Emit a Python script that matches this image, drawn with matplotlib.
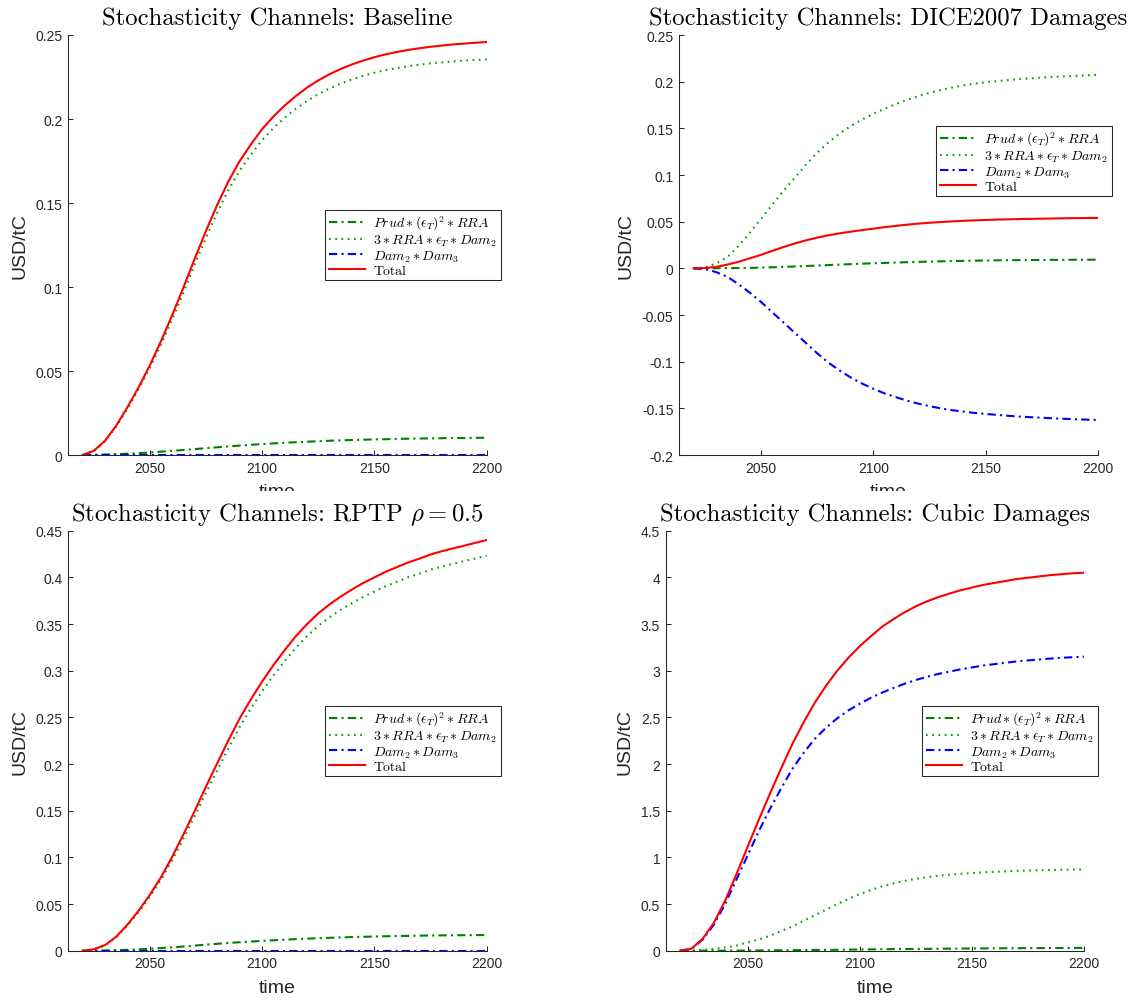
import matplotlib
matplotlib.use('Agg')
import matplotlib.pyplot as plt
from matplotlib import ticker
from matplotlib.transforms import Bbox, TransformedBbox

matplotlib.rcParams['mathtext.fontset'] = 'cm'
matplotlib.rcParams['axes.unicode_minus'] = False
matplotlib.rcParams['font.family'] = 'Liberation Sans'

W, H = 1133, 1004

years = [2020, 2025, 2030, 2035, 2040, 2045, 2050, 2055, 2060, 2065, 2070, 2075, 2080,
         2085, 2090, 2095, 2100, 2105, 2110, 2115, 2120, 2125, 2130, 2135, 2140, 2145,
         2150, 2155, 2160, 2165, 2170, 2175, 2180, 2185, 2190, 2195, 2200]

# Baseline
base_prud = [0, 0.0001, 0.0003, 0.0005, 0.0008, 0.0011, 0.0015, 0.002, 0.0025, 0.003, 0.0035, 0.0041, 0.0046,
             0.0051, 0.0056, 0.0061, 0.0065, 0.0069, 0.0073, 0.0076, 0.0079, 0.0082, 0.0085, 0.0087, 0.0089,
             0.0091, 0.0093, 0.0094, 0.0096, 0.0097, 0.0098, 0.0099, 0.0100, 0.0101, 0.0101, 0.0102, 0.0103]
base_rra = [0, 0.0024, 0.0082, 0.017, 0.0277, 0.0394, 0.052, 0.066, 0.081, 0.097, 0.1135, 0.1294, 0.1444,
            0.1579, 0.1694, 0.1789, 0.1875, 0.1946, 0.2007, 0.2061, 0.2108, 0.2148, 0.2182, 0.2211, 0.2236,
            0.2257, 0.2275, 0.2291, 0.2303, 0.2314, 0.2323, 0.2331, 0.2337, 0.2343, 0.2348, 0.2352, 0.2355]
base_dam = [0] * 37
base_total = [0, 0.0025, 0.0085, 0.0175, 0.0285, 0.0405, 0.0535, 0.068, 0.0835, 0.1, 0.117, 0.1335, 0.149,
              0.163, 0.175, 0.185, 0.194, 0.2015, 0.208, 0.2137, 0.2187, 0.223, 0.2267, 0.2298, 0.2325,
              0.2348, 0.2368, 0.2385, 0.2399, 0.2411, 0.2421, 0.243, 0.2437, 0.2444, 0.2449, 0.2454, 0.2458]

# DICE2007 damages
dice_prud = [0, 0, 0.0001, 0.0002, 0.0003, 0.0005, 0.0008, 0.0011, 0.0015, 0.002, 0.0025, 0.003, 0.0035,
             0.004, 0.0045, 0.005, 0.0054, 0.0058, 0.0062, 0.0066, 0.0069, 0.0072, 0.0075, 0.0078, 0.008,
             0.0082, 0.0084, 0.0086, 0.0087, 0.0088, 0.0089, 0.009, 0.0091, 0.0091, 0.0092, 0.0092, 0.0093]
dice_rra = [0, 0.001, 0.005, 0.012, 0.024, 0.038, 0.053, 0.068, 0.083, 0.097, 0.111, 0.124, 0.135,
            0.1445, 0.1525, 0.1595, 0.1655, 0.171, 0.176, 0.1805, 0.1845, 0.188, 0.191, 0.1937, 0.196,
            0.1978, 0.1993, 0.2006, 0.2017, 0.2027, 0.2036, 0.2044, 0.2051, 0.2057, 0.2063, 0.2068, 0.2073]
dice_dam = [0, -0.0008, -0.004, -0.009, -0.017, -0.026, -0.036, -0.047, -0.058, -0.069, -0.080, -0.091, -0.101,
            -0.1095, -0.117, -0.1235, -0.129, -0.134, -0.138, -0.1418, -0.145, -0.1477, -0.150, -0.152, -0.1535,
            -0.1549, -0.156, -0.157, -0.158, -0.1588, -0.1595, -0.1601, -0.1607, -0.1612, -0.1617, -0.1621, -0.1625]
dice_total = [0, 0.0003, 0.0015, 0.004, 0.007, 0.0107, 0.0145, 0.0187, 0.0228, 0.0266, 0.0300, 0.0329, 0.0354,
              0.0375, 0.0393, 0.041, 0.0425, 0.0441, 0.0455, 0.0468, 0.0479, 0.0488, 0.0496, 0.0503, 0.0509,
              0.0514, 0.0518, 0.0522, 0.0525, 0.0528, 0.053, 0.0532, 0.0534, 0.0536, 0.0538, 0.0539, 0.054]

# RPTP rho = 0.5
rptp_prud = [0, 0.0001, 0.0003, 0.0006, 0.001, 0.0015, 0.002, 0.0028, 0.0036, 0.0045, 0.0055, 0.0065, 0.0074,
             0.0083, 0.0091, 0.0098, 0.0105, 0.0112, 0.0118, 0.0124, 0.0129, 0.0134, 0.0138, 0.0142, 0.0146,
             0.0149, 0.0152, 0.0155, 0.0157, 0.0159, 0.0161, 0.0163, 0.0164, 0.0165, 0.0166, 0.0167, 0.0168]
rptp_rra = [0, 0.0014, 0.0057, 0.0144, 0.027, 0.0415, 0.058, 0.0762, 0.0974, 0.1205, 0.1445, 0.1695, 0.1936,
            0.2172, 0.2399, 0.2597, 0.278, 0.2948, 0.3102, 0.3246, 0.3371, 0.3481, 0.3572, 0.3653, 0.3724,
            0.3791, 0.3848, 0.3905, 0.3953, 0.4001, 0.4039, 0.4082, 0.4116, 0.4145, 0.4174, 0.4203, 0.4232]
rptp_dam = [0] * 37
rptp_total = [0, 0.0015, 0.006, 0.015, 0.028, 0.043, 0.060, 0.079, 0.101, 0.125, 0.150, 0.176, 0.201,
              0.2255, 0.249, 0.2695, 0.2885, 0.306, 0.322, 0.337, 0.350, 0.3615, 0.371, 0.3795, 0.387,
              0.394, 0.400, 0.406, 0.411, 0.416, 0.420, 0.4245, 0.428, 0.431, 0.434, 0.437, 0.440]

# Cubic damages
cubic_prud = [0, 0, 0.0002, 0.0005, 0.001, 0.0015, 0.002, 0.003, 0.004, 0.005, 0.006, 0.007, 0.008,
              0.009, 0.010, 0.0115, 0.013, 0.0145, 0.016, 0.017, 0.018, 0.019, 0.020, 0.021, 0.022,
              0.023, 0.024, 0.0247, 0.0253, 0.026, 0.0267, 0.0273, 0.028, 0.0285, 0.029, 0.0295, 0.030]
cubic_rra = [0, 0.002, 0.008, 0.02, 0.035, 0.055, 0.09, 0.12, 0.16, 0.21, 0.26, 0.32, 0.38,
             0.44, 0.50, 0.555, 0.605, 0.65, 0.69, 0.72, 0.748, 0.77, 0.788, 0.802, 0.814,
             0.824, 0.832, 0.839, 0.845, 0.85, 0.855, 0.859, 0.862, 0.865, 0.867, 0.869, 0.87]
cubic_dam = [0, 0.02, 0.12, 0.28, 0.50, 0.76, 1.02, 1.28, 1.52, 1.74, 1.95, 2.12, 2.27,
             2.39, 2.49, 2.575, 2.645, 2.71, 2.765, 2.815, 2.86, 2.90, 2.935, 2.965, 2.99,
             3.015, 3.035, 3.055, 3.07, 3.085, 3.10, 3.11, 3.12, 3.13, 3.138, 3.145, 3.15]
cubic_total = [0, 0.022, 0.128, 0.30, 0.536, 0.817, 1.112, 1.403, 1.684, 1.955, 2.216, 2.447, 2.658,
               2.839, 3.0, 3.14, 3.263, 3.37, 3.471, 3.552, 3.626, 3.689, 3.743, 3.788, 3.826,
               3.862, 3.891, 3.919, 3.94, 3.961, 3.982, 3.996, 4.01, 4.024, 4.034, 4.044, 4.05]

titles = ['Stochasticity Channels: Baseline',
          'Stochasticity Channels: DICE2007 Damages',
          r'Stochasticity Channels: RPTP $\rho = 0.5$',
          'Stochasticity Channels: Cubic Damages']
ylims = [(0, 0.25), (-0.2, 0.25), (0, 0.45), (0, 4.5)]
ysteps = [0.05, 0.05, 0.05, 0.5]
labels = [r'$Prud\ast(\epsilon_T)^2\ast RRA$',
          r'$3\ast RRA\ast\epsilon_T\ast Dam_2$',
          r'$Dam_2\ast Dam_3$',
          'Total']
series = [(base_prud, base_rra, base_dam, base_total),
          (dice_prud, dice_rra, dice_dam, dice_total),
          (rptp_prud, rptp_rra, rptp_dam, rptp_total),
          (cubic_prud, cubic_rra, cubic_dam, cubic_total)]

# axes boxes in pixels: left, top, right, bottom
boxes = [(68, 36, 486.7, 456), (679, 36, 1098, 456),
         (68, 531.7, 486.7, 951.7), (665.7, 531.7, 1084, 951.7)]
# legend top-left corners in pixels
leg_pos = [(325, 211), (936, 127), (325, 707), (922, 707)]

ink = '#262626'
fig = plt.figure(figsize=(W / 100, H / 100), dpi=100)

for i in range(4):
    l, t, r, b = boxes[i]
    ax = fig.add_axes([l / W, 1 - b / H, (r - l) / W, (b - t) / H])
    prud, rra, dam, total = series[i]
    ax.plot(years, prud, color='#008000', lw=1.5, linestyle=(0, (4, 2, 1, 2)), label=labels[0])
    ax.plot(years, rra, color='#00a000', lw=1.5, linestyle=(0, (0.8, 2.2)), label=labels[1])
    ax.plot(years, dam, color='#0000ff', lw=1.5, linestyle=(0, (4, 2, 1, 2)), label=labels[2])
    ax.plot(years, total, color='#ff0000', lw=1.5, label=labels[3])

    ax.set_xlim(2013.5, 2200)
    ax.set_ylim(*ylims[i])
    ax.set_xticks([2050, 2100, 2150, 2200])
    ax.yaxis.set_major_locator(ticker.MultipleLocator(ysteps[i]))
    ax.yaxis.set_major_formatter(ticker.FuncFormatter(lambda v, p: '%g' % round(v, 4)))
    ax.spines['top'].set_visible(False)
    ax.spines['right'].set_visible(False)
    for s in ('left', 'bottom'):
        ax.spines[s].set_color(ink)
        ax.spines[s].set_linewidth(0.75)
    ax.tick_params(direction='in', length=3.5, width=0.75, colors=ink, labelsize=10, pad=4)

    ax.set_xlabel('time', fontsize=14, color=ink, labelpad=6)
    ax.set_ylabel('USD/tC', fontsize=14, color=ink, labelpad=5)
    ax.set_title(titles[i], fontsize=17.8, family='cmr10', pad=8)

    lx, ly = leg_pos[i]
    ax.legend(loc='upper left', bbox_to_anchor=(lx / W, 1 - ly / H), bbox_transform=fig.transFigure,
              borderaxespad=0, fancybox=False, framealpha=1, edgecolor=ink,
              prop={'family': 'cmr10', 'size': 10}, handlelength=2.6, handletextpad=0.6,
              labelspacing=0.02, borderpad=0.28)
    ax.get_legend().get_frame().set_linewidth(0.75)

    if i < 2:
        # bottom row titles sit over the top row's x labels
        lbl = ax.xaxis.label
        lbl.set_clip_box(TransformedBbox(Bbox([[0, 1 - 492 / H], [1, 1]]), fig.transFigure))
        lbl.set_clip_on(True)

plt.savefig('out.png', dpi=100)
